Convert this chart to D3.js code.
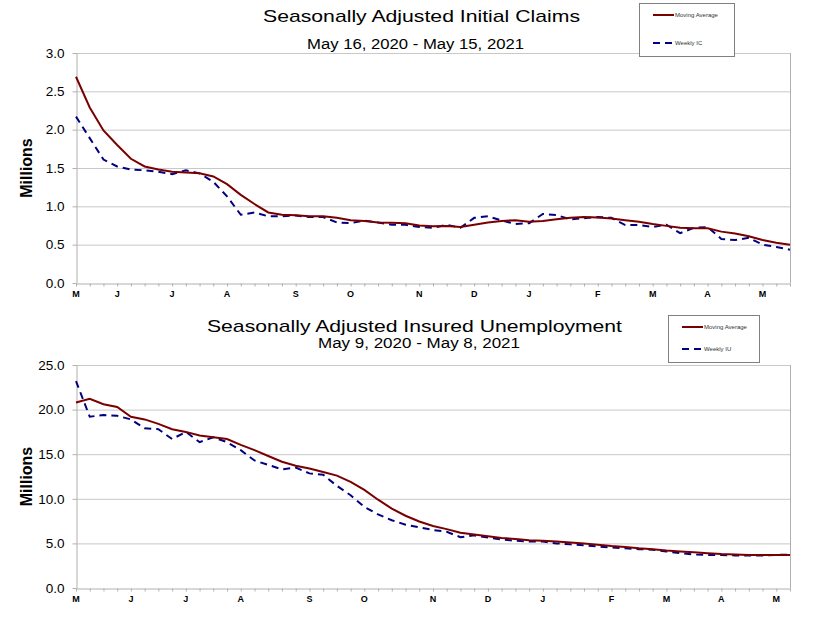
<!DOCTYPE html>
<html>
<head>
<meta charset="utf-8">
<script src="https://cdn.jsdelivr.net/npm/d3@7"></script>
<style>
  body { margin: 0; background: #fff; }
  svg { display: block; font-family: "Liberation Sans", Arial, sans-serif; }
  .grid line { stroke: #c8c8c8; stroke-width: 1; }
  .axis path, .axis line { stroke: #b0b0b0; }
  .axis text { fill: #000; }
</style>
</head>
<body>
<div id="chart"></div>
<script>
"use strict";

// недельные данные, млн
var monthLabels = ["M", "J", "J", "A", "S", "O", "N", "D", "J", "F", "M", "A", "M"];
var icMonthWeeks = [0, 3, 7, 11, 16, 20, 25, 29, 33, 38, 42, 46, 50];
var iuMonthWeeks = [0, 4, 8, 12, 17, 21, 26, 30, 34, 39, 43, 47, 51];

var icMovingAverage = [
  2.69, 2.29, 1.99, 1.80, 1.62, 1.52, 1.48, 1.45, 1.44, 1.43,
  1.39, 1.29, 1.15, 1.03, 0.92, 0.89, 0.885, 0.87, 0.87, 0.85,
  0.82, 0.81, 0.79, 0.785, 0.78, 0.75, 0.74, 0.745, 0.73, 0.76,
  0.79, 0.81, 0.82, 0.80, 0.81, 0.83, 0.85, 0.86, 0.855, 0.84,
  0.82, 0.80, 0.77, 0.745, 0.72, 0.715, 0.715, 0.67, 0.645, 0.61,
  0.56, 0.525, 0.50
];
var icWeekly = [
  2.17, 1.89, 1.61, 1.52, 1.48, 1.47, 1.45, 1.42, 1.47, 1.43,
  1.32, 1.13, 0.89, 0.92, 0.87, 0.87, 0.88, 0.86, 0.86, 0.79,
  0.78, 0.815, 0.79, 0.76, 0.76, 0.73, 0.72, 0.76, 0.72, 0.85,
  0.87, 0.815, 0.77, 0.78, 0.90, 0.885, 0.83, 0.845, 0.86, 0.85,
  0.755, 0.755, 0.73, 0.76, 0.65, 0.72, 0.73, 0.575, 0.56, 0.59,
  0.50, 0.47, 0.435
];
var iuMovingAverage = [
  20.8, 21.2, 20.6, 20.3, 19.2, 18.9, 18.4, 17.8, 17.5, 17.1,
  16.9, 16.7, 16.05, 15.45, 14.8, 14.15, 13.7, 13.4, 13.0, 12.6,
  11.9, 11.0, 9.9, 8.9, 8.1, 7.45, 6.95, 6.6, 6.2, 6.0,
  5.8, 5.6, 5.5, 5.35, 5.3, 5.2, 5.1, 5.0, 4.85, 4.7,
  4.6, 4.45, 4.35, 4.2, 4.1, 4.0, 3.9, 3.8, 3.75, 3.7,
  3.7, 3.7, 3.7
];
var iuWeekly = [
  23.2, 19.2, 19.4, 19.3, 18.9, 17.9, 17.8, 16.7, 17.5, 16.35,
  16.9, 16.35, 15.45, 14.3, 13.8, 13.3, 13.5, 12.85, 12.7, 11.45,
  10.4, 9.1, 8.25, 7.6, 7.1, 6.8, 6.5, 6.3, 5.7, 5.9,
  5.65, 5.45, 5.3, 5.2, 5.2, 5.0, 4.9, 4.8, 4.65, 4.55,
  4.45, 4.35, 4.3, 4.1, 3.9, 3.75, 3.7, 3.7, 3.65, 3.65,
  3.65, 3.7, 3.75
];

var svg = d3.select('#chart')
            .append('svg')
            .attr('width', 827)
            .attr('height', 637);

function drawPanel(opt) {
  var g = svg.append('g');
  var left = 76, right = 790;

  var scaleX = d3.scaleLinear()
                 .domain([0, opt.ma.length - 1])
                 .range([left, right]);
  var scaleY = d3.scaleLinear()
                 .domain([0, opt.yMax])
                 .range([opt.bottom, opt.top]);

  // сетка
  g.append('g')
    .attr('class', 'grid')
    .selectAll('line')
    .data(opt.yTicks.filter(function(d) { return d > 0; }))
    .enter().append('line')
    .attr('x1', left)
    .attr('x2', right)
    .attr('y1', function(d) { return scaleY(d) + 0.5; })
    .attr('y2', function(d) { return scaleY(d) + 0.5; });

  g.append('line')
    .attr('x1', right + 0.5).attr('x2', right + 0.5)
    .attr('y1', opt.top).attr('y2', opt.bottom)
    .attr('stroke', '#b0b0b0');

  var yAxis = d3.axisLeft(scaleY)
                .tickValues(opt.yTicks)
                .tickFormat(d3.format('.1f'))
                .tickSizeInner(4)
                .tickSizeOuter(0)
                .tickPadding(8);
  g.append('g')
    .attr('class', 'axis')
    .attr('transform', 'translate(' + (left + 0.5) + ',0)')
    .call(yAxis)
    .selectAll('text')
    .style('font-size', '13.5px');

  var xAxis = d3.axisBottom(scaleX)
                .tickValues(d3.range(opt.ma.length))
                .tickFormat('')
                .tickSizeInner(3)
                .tickSizeOuter(0);
  g.append('g')
    .attr('class', 'axis')
    .attr('transform', 'translate(0,' + (opt.bottom + 0.5) + ')')
    .call(xAxis);

  g.append('g')
    .selectAll('text')
    .data(opt.monthWeeks)
    .enter().append('text')
    .attr('x', function(d) { return scaleX(d); })
    .attr('y', opt.bottom + 14)
    .attr('text-anchor', 'middle')
    .style('font-size', '9px')
    .style('font-weight', 'bold')
    .text(function(d, i) { return monthLabels[i]; });

  g.append('text')
    .attr('transform', 'translate(32,' + ((opt.top + opt.bottom) / 2) + ') rotate(-90)')
    .attr('text-anchor', 'middle')
    .style('font-size', '16px')
    .style('font-weight', 'bold')
    .text('Millions');

  var line = d3.line()
    .x(function(d, i) { return scaleX(i); })
    .y(function(d) { return scaleY(d); });

  g.append('path')
    .attr('d', line(opt.weekly))
    .attr('fill', 'none')
    .attr('stroke', '#000080')
    .attr('stroke-width', 2)
    .attr('stroke-dasharray', '7,5');

  g.append('path')
    .attr('d', line(opt.ma))
    .attr('fill', 'none')
    .attr('stroke', '#7a0000')
    .attr('stroke-width', 2);

  // заголовки, в оригинале растянуты по ширине
  g.append('text')
    .attr('x', opt.titleX)
    .attr('y', opt.titleY)
    .attr('text-anchor', 'middle')
    .attr('textLength', opt.titleLen)
    .attr('lengthAdjust', 'spacingAndGlyphs')
    .style('font-size', opt.titleSize)
    .text(opt.title);
  g.append('text')
    .attr('x', opt.subX)
    .attr('y', opt.subY)
    .attr('text-anchor', 'middle')
    .attr('textLength', opt.subLen)
    .attr('lengthAdjust', 'spacingAndGlyphs')
    .style('font-size', opt.subSize)
    .text(opt.subtitle);

  // легенда
  var lg = g.append('g')
            .attr('transform', 'translate(' + opt.legend[0] + ',' + opt.legend[1] + ')');
  lg.append('rect')
    .attr('x', 0.5).attr('y', 0.5)
    .attr('width', opt.legend[2]).attr('height', opt.legend[3])
    .attr('fill', '#fff')
    .attr('stroke', '#808080');
  lg.append('line')
    .attr('x1', 14).attr('x2', 35)
    .attr('y1', 12).attr('y2', 12)
    .attr('stroke', '#7a0000').attr('stroke-width', 2);
  lg.append('line')
    .attr('x1', 14).attr('x2', 35)
    .attr('y1', opt.legend[3] - 13).attr('y2', opt.legend[3] - 13)
    .attr('stroke', '#000080').attr('stroke-width', 2)
    .attr('stroke-dasharray', '7,5');
  lg.append('text')
    .attr('x', 36).attr('y', 14)
    .style('font-size', '6px')
    .attr('fill', '#333')
    .text('Moving Average');
  lg.append('text')
    .attr('x', 36).attr('y', opt.legend[3] - 11)
    .style('font-size', '6px')
    .attr('fill', '#333')
    .text(opt.weeklyName);
}

drawPanel({
  top: 53, bottom: 283, yMax: 3, yTicks: [0, 0.5, 1, 1.5, 2, 2.5, 3],
  ma: icMovingAverage, weekly: icWeekly, monthWeeks: icMonthWeeks,
  title: 'Seasonally Adjusted Initial Claims', subtitle: 'May 16, 2020 - May 15, 2021',
  titleX: 421.5, titleY: 22, titleLen: 317, titleSize: '17px',
  subX: 415.5, subY: 49, subLen: 217, subSize: '14px',
  legend: [639, 3, 95, 53], weeklyName: 'Weekly IC'
});

drawPanel({
  top: 365, bottom: 588, yMax: 25, yTicks: [0, 5, 10, 15, 20, 25],
  ma: iuMovingAverage, weekly: iuWeekly, monthWeeks: iuMonthWeeks,
  title: 'Seasonally Adjusted Insured Unemployment', subtitle: 'May 9, 2020 - May 8, 2021',
  titleX: 414.5, titleY: 332, titleLen: 415, titleSize: '17px',
  subX: 419, subY: 348, subLen: 202, subSize: '14px',
  legend: [668, 315, 91, 47], weeklyName: 'Weekly IU'
});
</script>
</body>
</html>
